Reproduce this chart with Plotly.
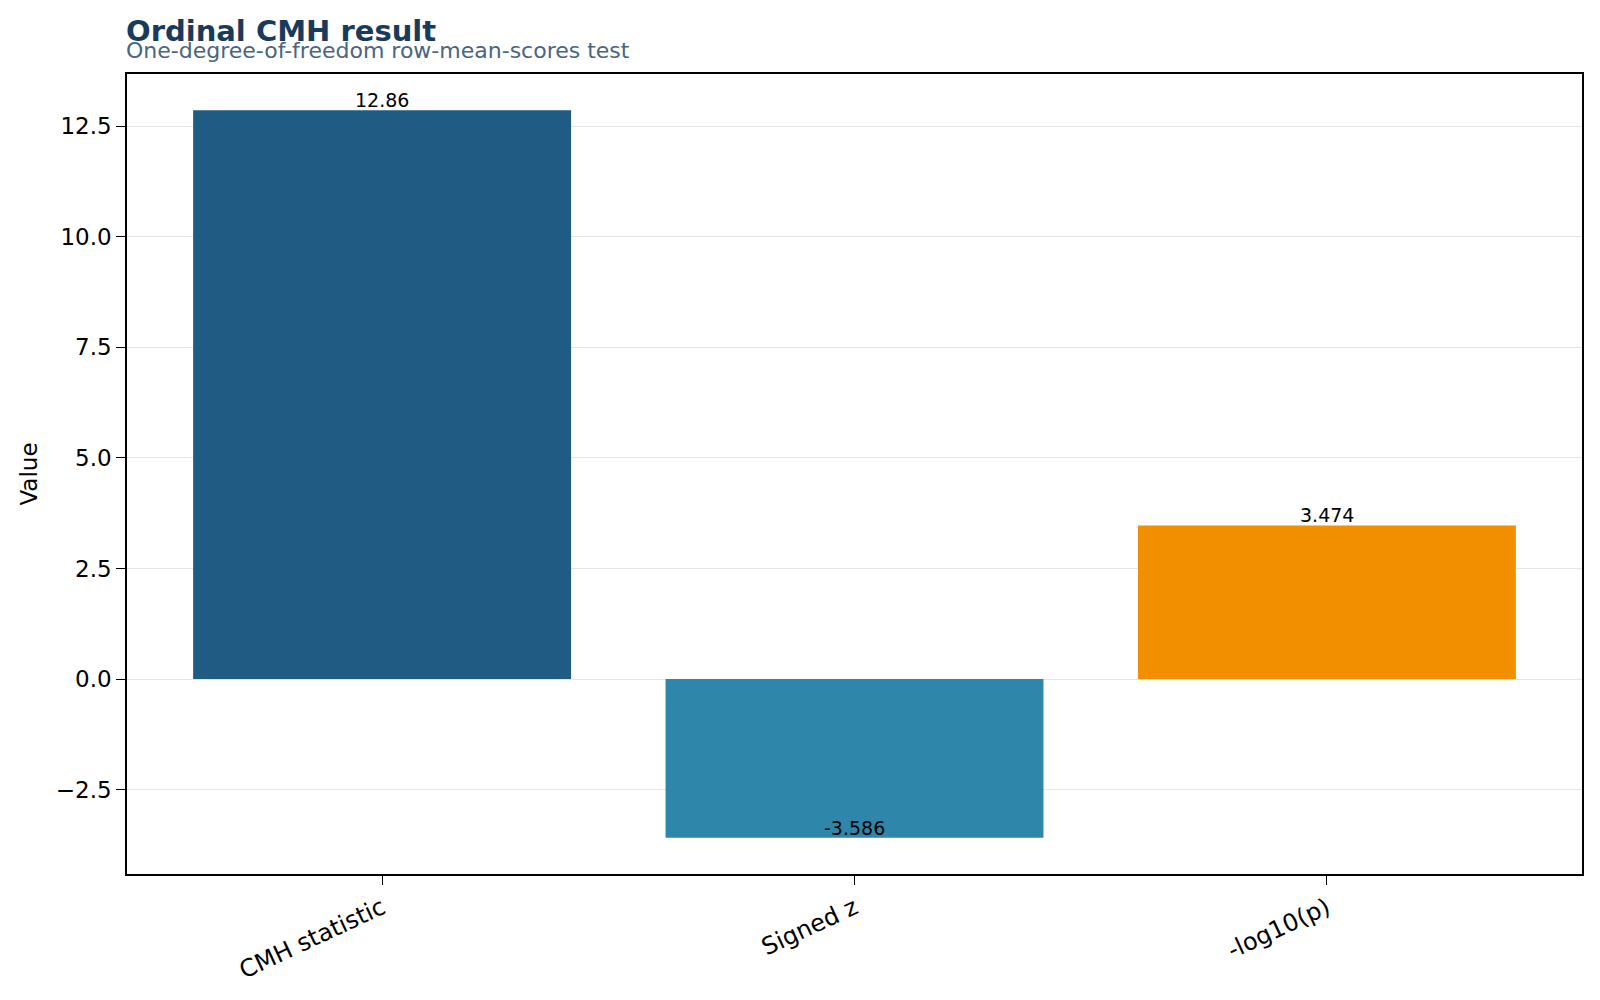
import plotly.graph_objects as go

categories = ["CMH statistic", "Signed z", "-log10(p)"]
values = [12.86, -3.586, 3.474]
bar_colors = ["#1f5b82", "#2e86ab", "#f18f01"]
title_text = "Ordinal CMH result"
subtitle_text = "One-degree-of-freedom row-mean-scores test"
y_label = "Value"

FONT = "DejaVu Sans"

fig = go.Figure()
fig.add_trace(go.Bar(
    x=list(range(len(categories))),
    y=values,
    marker=dict(color=bar_colors, line=dict(width=0)),
    width=0.8,
    hoverinfo="skip",
))

for i, v in enumerate(values):
    fig.add_annotation(
        x=i, y=v, xref="x", yref="y",
        text=f"{v:.4g}", showarrow=False,
        yanchor="bottom", xanchor="center", yshift=-3,
        font=dict(family=FONT, size=19, color="black"),
    )

fig.add_annotation(
    x=0, y=1.0535, xref="paper", yref="paper",
    text=f"<b>{title_text}</b>", showarrow=False,
    xanchor="left", yanchor="middle", xshift=-3,
    font=dict(family=FONT, size=29, color="#1a3a5c"),
)
fig.add_annotation(
    x=0, y=1.0293, xref="paper", yref="paper",
    text=subtitle_text, showarrow=False,
    xanchor="left", yanchor="middle", xshift=-3,
    font=dict(family=FONT, size=22, color="#4a6580"),
)

axis_common = dict(
    showline=True, linecolor="black", linewidth=1.5, mirror=True,
    ticks="outside", ticklen=9, tickwidth=1.2, tickcolor="black",
    tickfont=dict(family=FONT, size=23, color="black"),
)

fig.update_xaxes(
    **axis_common,
    tickmode="array", tickvals=list(range(len(categories))), ticktext=categories,
    tickangle=-25, range=[-0.54, 2.54], showgrid=False, zeroline=False,
)
fig.update_xaxes(tickfont=dict(family=FONT, size=24, color="black"))
fig.update_yaxes(
    **axis_common,
    range=[-4.408, 13.682], dtick=2.5, tick0=0, tickformat=".1f",
    showgrid=True, gridcolor="rgba(180,180,180,0.35)", gridwidth=1.2,
    zeroline=False, layer="above traces",
    title=dict(text=y_label, font=dict(family=FONT, size=23, color="black"), standoff=12),
)

fig.update_layout(
    width=1600, height=1000,
    margin=dict(l=126.5, r=18, t=73.5, b=125.5, autoexpand=False),
    plot_bgcolor="white", paper_bgcolor="white",
    showlegend=False, bargap=0.2,
    font=dict(family=FONT, color="black"),
)

fig.write_html("out.html")
